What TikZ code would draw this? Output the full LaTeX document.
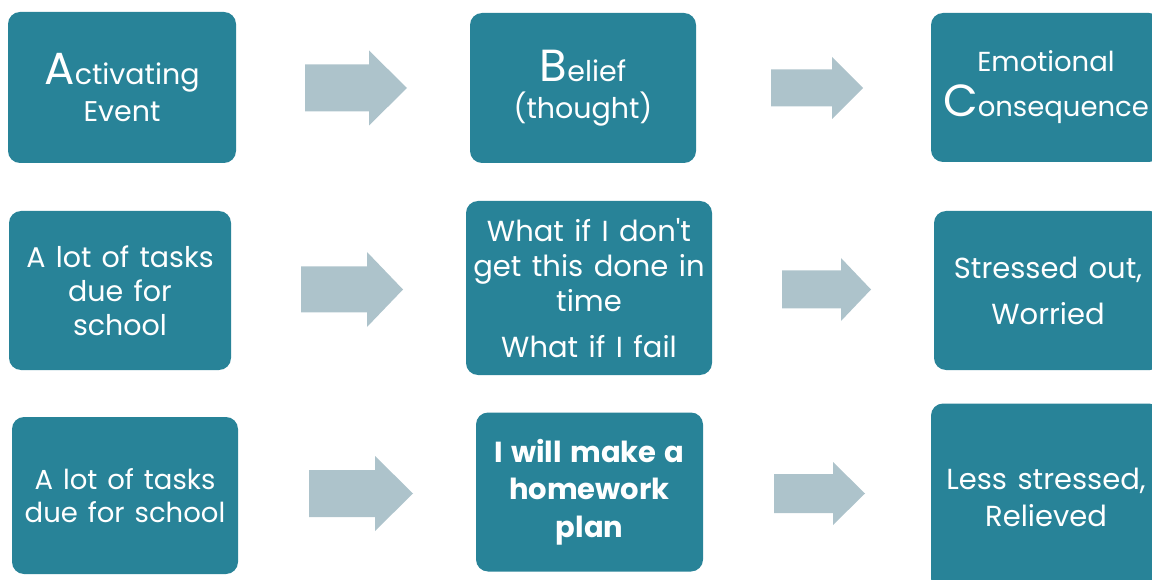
\documentclass[tikz,border=0pt]{standalone}
\usepackage{fontspec}
\setmainfont{Poppins}[WordSpace=1.35]
\definecolor{boxteal}{HTML}{288398}
\definecolor{arrowgrey}{HTML}{ADC3CB}
\newcommand{\initialcap}[1]{{\fontsize{45}{45}\selectfont #1}}
% block arrow: start x, head start x, tip x, centre y, shaft half width, head half width
\newcommand{\blockarrow}[6]{%
  \fill[arrowgrey] (#1,#4-#5) -- (#2,#4-#5) -- (#2,#4-#6) -- (#3,#4)
    -- (#2,#4+#6) -- (#2,#4+#5) -- (#1,#4+#5) -- cycle;}
\begin{document}
\begin{tikzpicture}[x=1pt,y=-1pt,
  card/.style={fill=boxteal, rounded corners=12pt, text=white, align=center,
    inner sep=0pt, font=\fontsize{28.5}{37}\selectfont}]
\useasboundingbox (0,0) rectangle (1152,580);
% header row
\node[card, minimum width=228pt, minimum height=151pt] (act) at (122,87.5)
  {\initialcap{A}ctivating\\Event};
\node[card, minimum width=226pt, minimum height=150pt] (bel) at (583,88)
  {\initialcap{B}elief\\(thought)};
\node[card, minimum width=230pt, minimum height=149pt,
  font=\fontsize{27.5}{37}\selectfont] (con) at (1046,87.5)
  {Emotional\\[8pt]\initialcap{C}onsequence};
% example row
\node[card, minimum width=222pt, minimum height=159pt,
  font=\fontsize{28.5}{34}\selectfont] (act2) at (120,290.5)
  {A lot of tasks\\due for\\school};
\node[card, minimum width=246pt, minimum height=174pt,
  font=\fontsize{29}{35}\selectfont] (bel2) at (589,288)
  {What if I don\textquotesingle t\\get this done in\\time\\[11pt]What if I fail};
\node[card, minimum width=228pt, minimum height=159pt,
  font=\fontsize{29}{46}\selectfont] (con2) at (1048,290.5)
  {Stressed out,\\Worried};
% alternative row
\node[card, minimum width=226pt, minimum height=157pt,
  font=\fontsize{27.5}{33}\selectfont] (act3) at (125,495.5)
  {A lot of tasks\\due for school};
\node[card, minimum width=227pt, minimum height=159pt,
  font=\fontsize{29}{37.5}\selectfont\bfseries] (bel3) at (589.5,492)
  {I will make a\\homework\\plan};
\node[card, minimum width=230pt, minimum height=187pt,
  font=\fontsize{29}{37}\selectfont] (con3) at (1046,497)
  {Less stressed,\\Relieved};
% block arrows between the cards
\blockarrow{305}{369}{407}{88}{23.5}{37.5}
\blockarrow{771}{832}{863}{88}{18.5}{31}
\blockarrow{301}{367}{403}{289.5}{23}{37.5}
\blockarrow{782}{841}{871}{289.5}{19}{31.5}
\blockarrow{309}{375}{413}{493.5}{23.5}{37.5}
\blockarrow{774}{833}{865}{493.5}{19.5}{31.5}
\end{tikzpicture}
\end{document}
